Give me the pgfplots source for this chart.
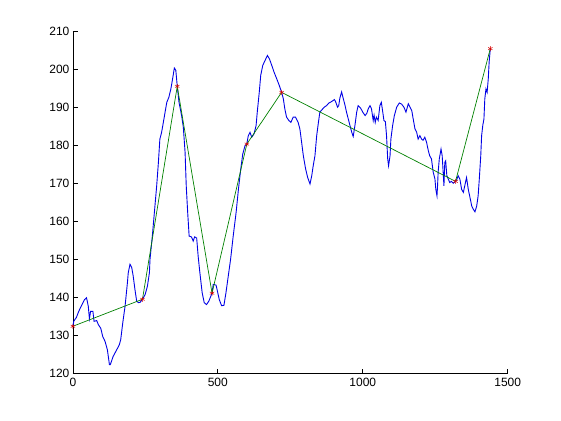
\documentclass[border=0pt]{standalone}
\usepackage{fontspec}
\setmainfont{Liberation Sans}
\usepackage{pgfplots}
\pgfplotsset{compat=1.18}
\definecolor{mblue}{rgb}{0,0,0.9}
\definecolor{mgreen}{rgb}{0,0.5,0}
\definecolor{mred}{rgb}{0.85,0,0}
\begin{document}
\begin{tikzpicture}[x=1pt,y=1pt]
\useasboundingbox (0,0) rectangle (561,420);
\begin{axis}[
  at={(72.9pt,46.2pt)}, anchor=south west,
  scale only axis, width=434.8pt, height=342.3pt,
  xmin=0, xmax=1500, ymin=120, ymax=210,
  axis x line*=bottom, axis y line*=left,
  axis line style={-, line width=0.7pt, black},
  every tick/.style={black, line width=0.7pt},
  tick align=inside, major tick length=5pt,
  xtick={0,500,1000,1500}, ytick={120,130,...,210},
  /pgf/number format/assume math mode=true,
  /pgf/number format/1000 sep={},
  tick label style={font=\fontsize{12}{14}\selectfont},
  xticklabel style={yshift=-1pt},
  clip=false,
]
\addplot[mblue, line width=0.9pt] coordinates {
(0,132.5)(3,133.8)(7,134.3)(12,134.8)(20,136.4)(30,138)(40,139.5)(47,140)(53,137.8)(57,134.5)(61,136.4)(69,136.4)(73,133.8)(82,134)(88,132.9)(96,132)(103,129.8)(111,128.5)(119,126.3)(126,122.4)(129,122.4)(139,124.6)(151,126.3)(160,127.6)(165,129)(172,133.4)(180,137.8)(188,143.9)(191,146.6)(197,148.8)(203,147.9)(208,145.7)(214,142.2)(220,139.1)(226,138.7)(232,138.8)(240,139.6)(249,140.8)(257,143)(264,146.6)(266,150.1)(274,156.2)(283,164.1)(289,169.4)(295,175.6)(300,181.7)(306,183.5)(312,186.1)(318,188.8)(324,191.4)(331,192.7)(338,194.9)(344,197.6)(350,200.4)(355,199.8)(360,195.6)(366,191.4)(375,187.9)(381,184.8)(387,178.2)(391,169.4)(396,162.4)(401,156.2)(409,156)(415,154.9)(420,156)(427,155.7)(432,151)(438,146.6)(446,141.3)(453,138.7)(461,138.2)(469,139.1)(480,141.2)(484,143.5)(490,143.4)(494,143.3)(505,139.5)(513,137.9)(521,138)(528,141.3)(536,145.7)(544,150.1)(553,156.2)(563,162.4)(571,168.5)(579,173.8)(586,177.8)(594,180)(600,180.4)(605,182.6)(611,183.5)(617,182.2)(625,183.1)(632,185.3)(636,188.8)(643,194.1)(648,198.5)(655,201.1)(663,202.4)(671,203.7)(678,202.8)(686,201.1)(694,199.3)(703,197.6)(712,195.8)(720,194)(726,192.3)(731,189.7)(737,187.5)(745,186.6)(752,186.1)(760,187.5)(768,187.5)(777,186.1)(783,184.4)(789,180.9)(795,177.3)(803,173.8)(810,171.6)(818,169.9)(824,172.1)(829,174.7)(835,177.3)(841,182.6)(847,186.1)(852,188.8)(867,190.1)(875,190.5)(883,191.2)(893,191.6)(902,192.1)(906,191.6)(913,190.1)(917,190.5)(921,192.5)(927,194.1)(933,192.3)(939,190.5)(944,188.8)(953,186.1)(962,183.5)(967,182.4)(973,185.3)(979,188.8)(984,190.5)(993,189.8)(1000,188.8)(1008,187.9)(1014,188.5)(1019,189.7)(1025,190.5)(1030,189.7)(1036,186.6)(1039,188)(1043,186.1)(1047,187.5)(1053,186.6)(1059,190.5)(1064,191.4)(1069,188.8)(1073,186.6)(1078,186.3)(1082,182.6)(1086,176.5)(1089,174.7)(1094,177.3)(1097,181.7)(1103,185.3)(1109,187.9)(1117,190.1)(1126,191.2)(1134,190.9)(1142,190.1)(1149,188.8)(1157,191)(1163,190.1)(1169,189.2)(1174,187)(1180,184.4)(1186,183.5)(1191,181.7)(1197,182.6)(1203,181.7)(1208,181.4)(1214,182.2)(1220,180.9)(1226,178.7)(1231,177.3)(1237,176.5)(1243,173)(1249,171.2)(1252,168.5)(1256,166.8)(1258,169.4)(1260,173)(1264,176.5)(1270,179.1)(1274,177.3)(1278,172.1)(1280,169.4)(1283,175.6)(1286,176)(1290,172.1)(1295,171.2)(1300,170.3)(1306,170.6)(1312,170.1)(1320,170.6)(1324,171)(1329,172.1)(1335,171.2)(1341,168.5)(1347,167.7)(1352,169.5)(1358,171.6)(1364,168.5)(1370,166.3)(1376,164.1)(1381,163.3)(1387,162.6)(1393,164.1)(1398,166.8)(1402,171.2)(1407,177.3)(1410,182.6)(1414,185.3)(1418,187)(1421,192.3)(1425,194.9)(1429,194)(1433,197.6)(1436,202)(1440,205.5)
};
\addplot[mgreen, line width=0.7pt] coordinates {
(0,132.5)(240,139.6)(360,195.6)(480,141.2)(600,180.4)(720,194)(1320,170.6)(1440,205.5)
};
\addplot[only marks, mark=asterisk, mark size=2.5pt, mred, mark options={line width=0.5pt}] coordinates {
(0,132.5)(240,139.6)(360,195.6)(480,141.2)(600,180.4)(720,194)(1320,170.6)(1440,205.5)
};
\end{axis}
\end{tikzpicture}
\end{document}
